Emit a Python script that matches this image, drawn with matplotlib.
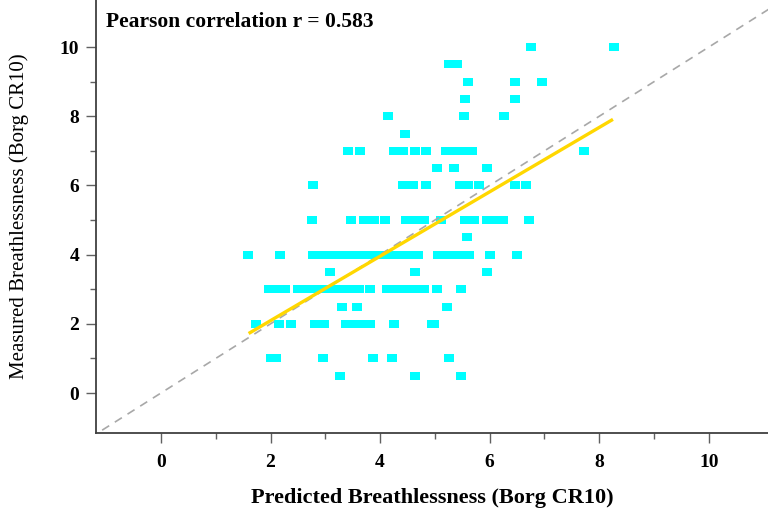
import matplotlib.pyplot as plt

plt.rcParams['font.family'] = ['Liberation Serif', 'DejaVu Serif']

# predicted (x) and measured (y) breathlessness, one row per measured level
predicted = [
    6.75, 8.27,
    5.25, 5.4,
    5.61, 6.47, 6.95,
    5.55, 6.47,
    4.15, 5.53, 6.27,
    4.46,
    3.42, 3.64, 4.25, 4.42, 4.64, 4.84, 5.2, 5.35, 5.5, 5.67, 7.72,
    5.04, 5.35, 5.96,
    2.78, 4.42, 4.6, 4.84, 5.45, 5.6, 5.8, 6.47, 6.67,
    2.76, 3.47, 3.7, 3.88, 4.08, 4.47, 4.62, 4.8, 5.12, 5.55, 5.72, 5.95, 6.1, 6.25, 6.72,
    5.58,
    1.58, 2.17, 2.78, 2.92, 3.06, 3.2, 3.34, 3.48, 3.62, 3.76, 3.9, 4.04, 4.18, 4.32,
    4.46, 4.6, 4.7, 5.05, 5.2, 5.35, 5.5, 5.63, 6.01, 6.49,
    3.08, 4.64, 5.96,
    1.98, 2.12, 2.26, 2.5, 2.64, 2.78, 2.92, 3.06, 3.2, 3.34, 3.48, 3.62, 3.82,
    4.12, 4.26, 4.4, 4.54, 4.68, 4.81, 5.04, 5.47,
    3.31, 3.57, 5.22,
    1.73, 2.16, 2.37, 2.82, 2.98, 3.37, 3.52, 3.67, 3.82, 4.26, 4.95, 4.99,
    2.0, 2.1, 2.95, 3.87, 4.21, 5.25,
    3.27, 4.64, 5.48,
]
measured = (
    [10] * 2 + [9.5] * 2 + [9] * 3 + [8.5] * 2 + [8] * 3 + [7.5] * 1
    + [7] * 11 + [6.5] * 3 + [6] * 9 + [5] * 15 + [4.5] * 1
    + [4] * 24 + [3.5] * 3 + [3] * 21 + [2.5] * 3 + [2] * 12
    + [1] * 6 + [0.5] * 3
)

# regression line end points as drawn
fit_x = [1.6, 8.25]
fit_y = [1.72, 7.91]
r_value = 0.583

fig = plt.figure(figsize=(7.68, 5.08), dpi=100)
ax = fig.add_axes([96 / 768, 75 / 508, 672 / 768, 433 / 508])

rect = [(-1, -0.84), (1, -0.84), (1, 0.84), (-1, 0.84), (-1, -0.84)]
ax.scatter(predicted, measured, marker=rect, s=48, color='#00FFFF',
           linewidths=0, zorder=2)
ax.plot([-2, 12], [-2, 12], color='#a8a8a8', linestyle=(0, (5, 4)),
        linewidth=1.2, zorder=3)
ax.plot(fit_x, fit_y, color='#FFD700', linewidth=2.4, zorder=4,
        solid_capstyle='butt')

ax.set_xlim(-1.186, 11.08)
ax.set_ylim(-1.156, 11.36)
ax.set_xticks([0, 2, 4, 6, 8, 10])
ax.set_yticks([0, 2, 4, 6, 8, 10])
ax.set_xticks([1, 3, 5, 7, 9], minor=True)
ax.set_yticks([1, 3, 5, 7, 9], minor=True)
ax.tick_params(which='major', length=7, width=1, color='#606060',
               labelsize=14, pad=5)
ax.tick_params(axis='x', which='major', pad=8)
ax.tick_params(which='minor', length=4.5, width=1, color='#606060')
for lab in ax.get_xticklabels() + ax.get_yticklabels():
    lab.set_fontweight('bold')

for side in ['top', 'right']:
    ax.spines[side].set_visible(False)
for side in ['left', 'bottom']:
    ax.spines[side].set_color('#404040')
    ax.spines[side].set_linewidth(1.3)

ax.set_xlabel('Predicted Breathlessness (Borg CR10)', fontsize=16,
              fontweight='bold', labelpad=12)
ax.set_ylabel('Measured Breathlessness (Borg CR10)', fontsize=15, labelpad=22)
ax.text(0.015, 0.95, 'Pearson correlation r = %.3f' % r_value,
        transform=ax.transAxes, fontsize=15.5, fontweight='bold',
        ha='left', va='center')

plt.savefig('out.png')
